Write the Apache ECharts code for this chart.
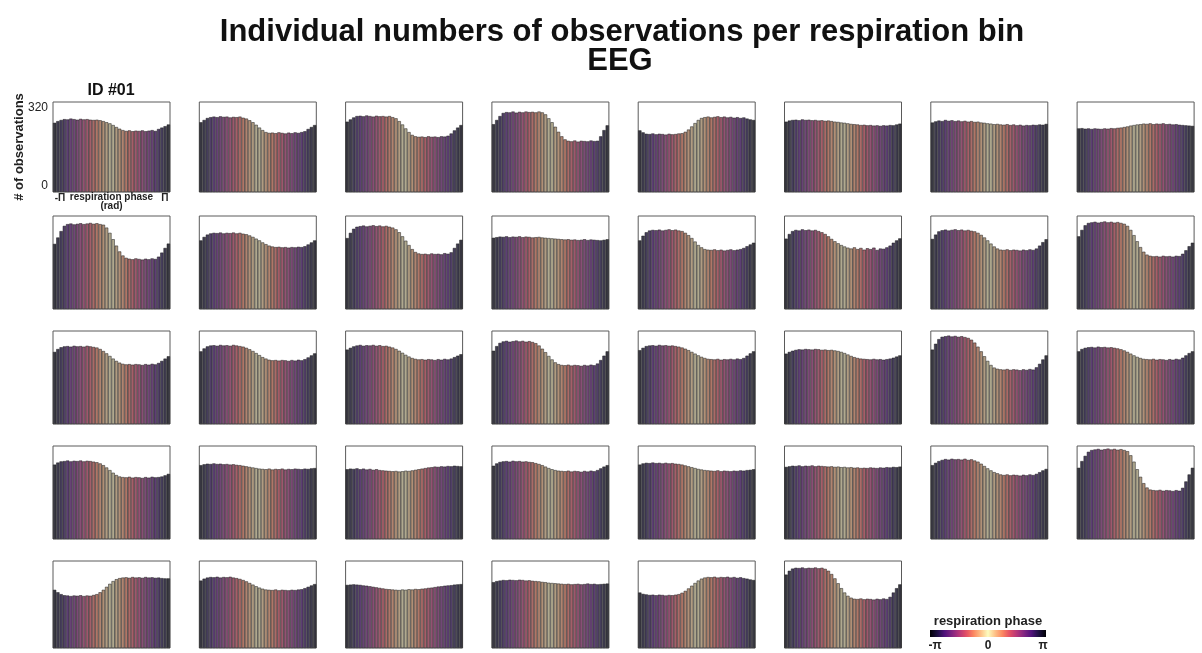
<!DOCTYPE html>
<html>
<head>
<meta charset="utf-8">
<script src="https://cdn.jsdelivr.net/npm/echarts@6/dist/echarts.min.js"></script>
<style>
  html, body { margin: 0; padding: 0; background: #ffffff; }
  #chart { width: 1202px; height: 653px; }
</style>
</head>
<body>
<div id="chart"></div>
<script>
// ---- data: observation counts per respiration-phase bin (36 bins, -π .. π) ----
const binCount = 36;
const yMax = 320;
const yTickLabels = ['0', '320'];
const xTickLabels = ['-Π', 'Π'];
const colorbarTicks = ['-π', '0', 'π'];

const obs01 = [246,252,256,259,258,261,259,257,260,258,259,257,256,257,255,252,248,244,238,231,225,220,217,219,216,218,217,219,216,218,220,217,224,229,234,240];
const obs02 = [248,256,263,266,268,266,269,267,268,265,267,266,268,264,261,255,248,239,229,220,213,210,211,209,212,210,208,211,209,212,210,213,216,224,231,238];
const obs03 = [250,258,265,270,271,269,272,270,268,271,269,270,268,270,266,262,252,240,226,213,203,198,196,197,195,198,196,197,195,198,197,200,208,219,229,238];
const obs04 = [241,256,270,281,284,283,286,282,285,283,286,284,285,283,286,283,276,262,248,232,214,198,187,182,180,183,179,182,181,180,183,181,182,198,220,237];
const obs05 = [219,212,207,206,208,205,207,206,204,207,205,206,208,209,214,222,233,245,256,263,266,268,265,267,269,266,268,265,267,264,266,263,265,261,258,256];
const obs06 = [250,254,256,257,255,258,256,257,255,256,254,255,253,254,252,250,249,247,246,244,242,241,240,238,239,237,238,236,237,235,237,236,238,237,240,243];
const obs07 = [247,251,254,252,256,253,255,252,254,251,253,250,252,249,250,247,246,244,243,241,242,240,239,241,238,240,237,239,236,238,237,239,238,240,239,242];
const obs08 = [226,227,225,226,224,226,225,224,226,225,227,226,228,229,231,233,236,238,240,241,243,242,244,241,243,242,244,241,242,240,241,239,238,237,236,235];
const obs09 = [224,246,268,286,292,294,291,293,295,292,294,296,293,295,292,290,280,262,240,218,198,184,176,173,171,174,172,170,173,171,174,172,180,194,210,225];
const obs10 = [236,248,256,260,262,261,263,260,262,261,263,260,262,259,257,253,248,242,236,229,223,218,215,213,214,212,213,211,213,212,214,213,216,222,229,236];
const obs11 = [244,262,276,283,285,287,284,286,288,285,287,284,286,283,280,274,264,250,235,220,206,196,191,189,190,188,191,189,190,188,192,190,195,210,225,238];
const obs12 = [245,247,249,248,250,247,249,248,250,247,249,248,246,247,248,246,245,244,243,242,241,240,239,240,238,239,237,238,240,237,239,238,237,236,238,240];
const obs13 = [236,252,264,270,272,271,273,270,272,274,271,273,270,268,262,254,244,232,220,212,206,204,203,205,202,204,201,203,205,202,204,206,210,216,222,228];
const obs14 = [242,258,268,272,270,274,271,273,270,272,268,264,258,250,241,233,226,220,215,211,208,212,206,210,204,209,206,211,203,208,207,212,218,228,236,243];
const obs15 = [241,256,267,271,273,270,272,274,271,273,270,272,269,267,262,255,246,236,225,215,208,204,203,205,202,204,203,201,204,202,205,203,208,218,230,240];
const obs16 = [250,272,288,296,298,300,297,299,301,298,300,297,299,296,293,286,272,254,233,213,197,187,183,181,182,180,183,181,182,180,183,182,190,202,216,228];
const obs17 = [248,258,264,267,268,266,269,267,268,266,269,267,265,263,258,251,243,234,225,217,211,207,205,206,204,206,205,203,206,204,207,205,210,217,225,233];
const obs18 = [250,260,267,270,271,269,272,270,271,269,272,270,268,266,262,257,251,244,237,230,225,221,219,220,218,220,219,217,220,218,221,219,223,229,236,243];
const obs19 = [256,262,267,270,272,269,271,270,272,269,271,268,269,266,263,258,252,245,238,232,227,224,222,223,221,223,222,220,223,221,224,222,225,230,235,240];
const obs20 = [252,268,279,284,286,283,285,287,284,286,283,285,282,278,270,259,247,234,222,212,206,203,202,204,201,203,202,200,203,201,204,202,208,220,235,250];
const obs21 = [254,262,268,270,271,269,272,270,271,269,270,268,266,263,259,254,248,242,236,231,227,224,223,222,224,221,223,222,224,222,225,223,227,235,243,250];
const obs22 = [242,248,252,255,257,256,258,257,256,258,257,255,256,254,255,253,251,248,244,239,234,230,227,225,224,223,222,224,222,223,221,223,225,228,232,236];
const obs23 = [256,276,292,300,302,304,301,303,300,302,299,296,290,280,266,250,233,217,203,194,190,188,187,189,186,188,187,185,188,186,189,187,195,207,222,236];
const obs24 = [250,258,262,264,265,263,266,264,265,263,264,262,260,257,253,248,242,236,231,227,224,223,222,224,221,223,222,220,223,221,224,222,228,236,244,250];
const obs25 = [256,263,267,268,270,267,269,268,270,267,269,268,266,264,260,254,246,237,228,220,215,213,212,214,211,213,212,210,213,211,214,212,213,215,219,224];
const obs26 = [254,257,259,258,260,258,259,257,258,256,257,255,254,252,250,248,246,244,242,241,240,242,239,241,240,242,239,241,240,242,241,240,242,241,243,244];
const obs27 = [240,242,241,243,240,242,239,241,238,240,237,236,235,234,233,234,232,233,235,234,236,238,240,242,244,246,247,249,248,250,249,251,250,252,251,250];
const obs28 = [252,260,265,267,268,266,269,267,268,266,267,265,264,261,258,254,249,244,240,237,235,234,233,235,232,234,233,231,234,232,235,233,237,243,249,254];
const obs29 = [256,260,262,261,263,261,262,260,262,260,261,259,258,256,253,250,247,244,241,239,237,236,235,234,236,233,235,234,233,235,234,236,235,237,238,240];
const obs30 = [248,250,252,251,253,250,252,251,253,250,252,251,250,249,250,248,249,247,248,246,247,245,246,244,245,244,246,245,244,246,245,247,246,248,247,249];
const obs31 = [254,262,268,272,275,273,276,274,275,273,276,272,274,270,266,259,251,243,236,230,226,222,220,222,219,221,220,218,221,219,222,220,224,230,236,241];
const obs32 = [245,268,286,300,306,308,310,307,309,311,308,310,307,309,306,302,288,266,240,214,192,177,170,168,167,169,166,168,167,165,168,166,176,198,222,245];
const obs33 = [214,205,198,194,193,191,193,192,194,191,193,192,195,198,205,214,225,236,246,253,257,259,260,258,261,259,260,258,261,259,260,258,259,257,256,256];
const obs34 = [248,255,259,261,260,262,259,261,260,262,259,257,254,250,245,239,233,227,222,218,215,214,213,215,212,214,213,212,214,213,215,216,220,225,230,235];
const obs35 = [232,233,234,233,232,230,229,227,225,223,221,219,217,216,215,214,213,215,214,216,215,217,216,218,219,221,222,224,226,227,229,230,231,233,234,235];
const obs36 = [242,246,248,250,249,251,250,249,251,250,248,249,247,246,245,243,242,240,239,238,237,236,235,236,234,235,236,234,235,237,235,236,234,235,236,237];
const obs37 = [204,199,197,195,196,194,196,195,193,195,194,196,198,203,210,219,229,239,248,255,259,261,260,262,259,261,260,262,259,261,258,260,257,255,252,250];
const obs38 = [270,284,292,295,294,296,293,295,294,296,293,295,291,284,272,256,238,220,204,192,185,181,180,182,179,181,180,178,181,179,182,180,188,204,220,234];

const subjects = [obs01,obs02,obs03,obs04,obs05,obs06,obs07,obs08,obs09,obs10,
                  obs11,obs12,obs13,obs14,obs15,obs16,obs17,obs18,obs19,obs20,
                  obs21,obs22,obs23,obs24,obs25,obs26,obs27,obs28,obs29,obs30,
                  obs31,obs32,obs33,obs34,obs35,obs36,obs37,obs38];

// ---- colour map: magma, mirrored so that -π and π meet (cyclic phase) ----
const magmaStops = [
  [0.00, [0, 0, 4]], [0.13, [28, 16, 68]], [0.25, [79, 18, 123]],
  [0.38, [129, 37, 129]], [0.50, [181, 54, 122]], [0.63, [229, 80, 100]],
  [0.75, [251, 135, 97]], [0.88, [254, 194, 135]], [1.00, [252, 253, 191]]
];
function magma(t) {
  for (let k = 1; k < magmaStops.length; k++) {
    const [t1, c1] = magmaStops[k];
    const [t0, c0] = magmaStops[k - 1];
    if (t <= t1) {
      const f = (t - t0) / (t1 - t0);
      return c0.map((v, j) => v + (c1[j] - v) * f);
    }
  }
  return magmaStops[magmaStops.length - 1][1];
}
// fade > 0 blends the map toward a neutral grey (muted bar fills)
function phaseColor(phase, fade) {
  const c = magma(1 - Math.abs(phase) / Math.PI);
  const g = [105, 105, 110];
  const m = c.map((v, j) => Math.round(v * (1 - fade) + g[j] * fade));
  return 'rgb(' + m.join(',') + ')';
}
const binPhase = i => -Math.PI + (i + 0.5) * 2 * Math.PI / binCount;
const barColors = Array.from({ length: binCount }, (_, i) => phaseColor(binPhase(i), 0.52));
const categories = Array.from({ length: binCount }, (_, i) => String(i));

// ---- panel layout ----
const nCols = 8;
const colLeft0 = 53, colStep = 146.3, panelW = 117;
const rowTops = [102, 216, 331, 446, 561];
const rowHeights = [90, 93, 93, 93, 87];
const FONT = '"Liberation Sans", Arial, Helvetica, sans-serif';

const grids = [], xAxes = [], yAxes = [], series = [];
subjects.forEach((vals, k) => {
  const r = Math.floor(k / nCols), c = k % nCols;
  const first = k === 0;
  grids.push({
    left: colLeft0 + c * colStep, top: rowTops[r], width: panelW, height: rowHeights[r],
    show: true, borderColor: '#5a5a5a', borderWidth: 1, backgroundColor: '#ffffff'
  });
  xAxes.push({
    type: 'category', gridIndex: k, data: categories, boundaryGap: true,
    axisLine: { show: false }, axisTick: { show: false }, splitLine: { show: false },
    axisLabel: first ? {
      show: true, interval: 0, margin: 1, fontSize: 10, fontWeight: 'bold', color: '#222',
      fontFamily: FONT, alignMinLabel: 'left', alignMaxLabel: 'right',
      formatter: (v, i) => (i === 0 ? xTickLabels[0] : (i === binCount - 1 ? xTickLabels[1] : ''))
    } : { show: false },
    name: first ? 'respiration phase\n(rad)' : '',
    nameLocation: 'middle', nameGap: 1, nameMoveOverlap: false,
    nameTextStyle: { fontSize: 10, fontWeight: 'bold', color: '#222', lineHeight: 9, fontFamily: FONT }
  });
  yAxes.push({
    type: 'value', gridIndex: k, min: 0, max: yMax, interval: yMax,
    axisLine: { show: false }, axisTick: { show: false }, splitLine: { show: false },
    axisLabel: first ? {
      show: true, margin: 5, fontSize: 12, color: '#222', fontFamily: FONT,
      verticalAlignMinLabel: 'bottom', verticalAlignMaxLabel: 'top',
      formatter: v => (v === 0 ? yTickLabels[0] : yTickLabels[1])
    } : { show: false },
    name: first ? '# of observations' : '',
    nameLocation: 'middle', nameGap: 27, nameRotate: 90, nameMoveOverlap: false,
    nameTextStyle: { fontSize: 13, fontWeight: 'bold', color: '#222', fontFamily: FONT }
  });
  series.push({
    type: 'bar', xAxisIndex: k, yAxisIndex: k, data: vals,
    barCategoryGap: '0%', barGap: '0%', silent: true,
    itemStyle: {
      color: p => barColors[p.dataIndex],
      borderColor: '#1c1c1c', borderWidth: 0.5
    }
  });
});

// colour bar stops
const cbStops = [];
for (let i = 0; i <= 40; i++) {
  const p = -Math.PI + i * 2 * Math.PI / 40;
  cbStops.push({ offset: i / 40, color: phaseColor(p, 0) });
}

const chart = echarts.init(document.getElementById('chart'), null, { renderer: 'canvas' });
chart.setOption({
  animation: false,
  backgroundColor: '#ffffff',
  grid: grids, xAxis: xAxes, yAxis: yAxes, series: series,
  graphic: { elements: [
    { type: 'text', x: 622, y: 32, style: { text: 'Individual numbers of observations per respiration bin',
      font: 'bold 31px ' + FONT, fill: '#111', textAlign: 'center', textVerticalAlign: 'middle' } },
    { type: 'text', x: 620, y: 61, style: { text: 'EEG',
      font: 'bold 31px ' + FONT, fill: '#111', textAlign: 'center', textVerticalAlign: 'middle' } },
    { type: 'text', x: 111, y: 91, style: { text: 'ID #01',
      font: 'bold 16px ' + FONT, fill: '#111', textAlign: 'center', textVerticalAlign: 'middle' } },
    { type: 'text', x: 988, y: 621, style: { text: 'respiration phase',
      font: 'bold 13px ' + FONT, fill: '#222', textAlign: 'center', textVerticalAlign: 'middle' } },
    { type: 'rect', shape: { x: 930, y: 630, width: 116, height: 7 },
      style: { fill: new echarts.graphic.LinearGradient(0, 0, 1, 0, cbStops) } },
    { type: 'text', x: 935, y: 646, style: { text: colorbarTicks[0],
      font: 'bold 12px ' + FONT, fill: '#222', textAlign: 'center', textVerticalAlign: 'middle' } },
    { type: 'text', x: 988, y: 646, style: { text: colorbarTicks[1],
      font: 'bold 12px ' + FONT, fill: '#222', textAlign: 'center', textVerticalAlign: 'middle' } },
    { type: 'text', x: 1043, y: 646, style: { text: colorbarTicks[2],
      font: 'bold 12px ' + FONT, fill: '#222', textAlign: 'center', textVerticalAlign: 'middle' } }
  ] }
});
</script>
</body>
</html>
